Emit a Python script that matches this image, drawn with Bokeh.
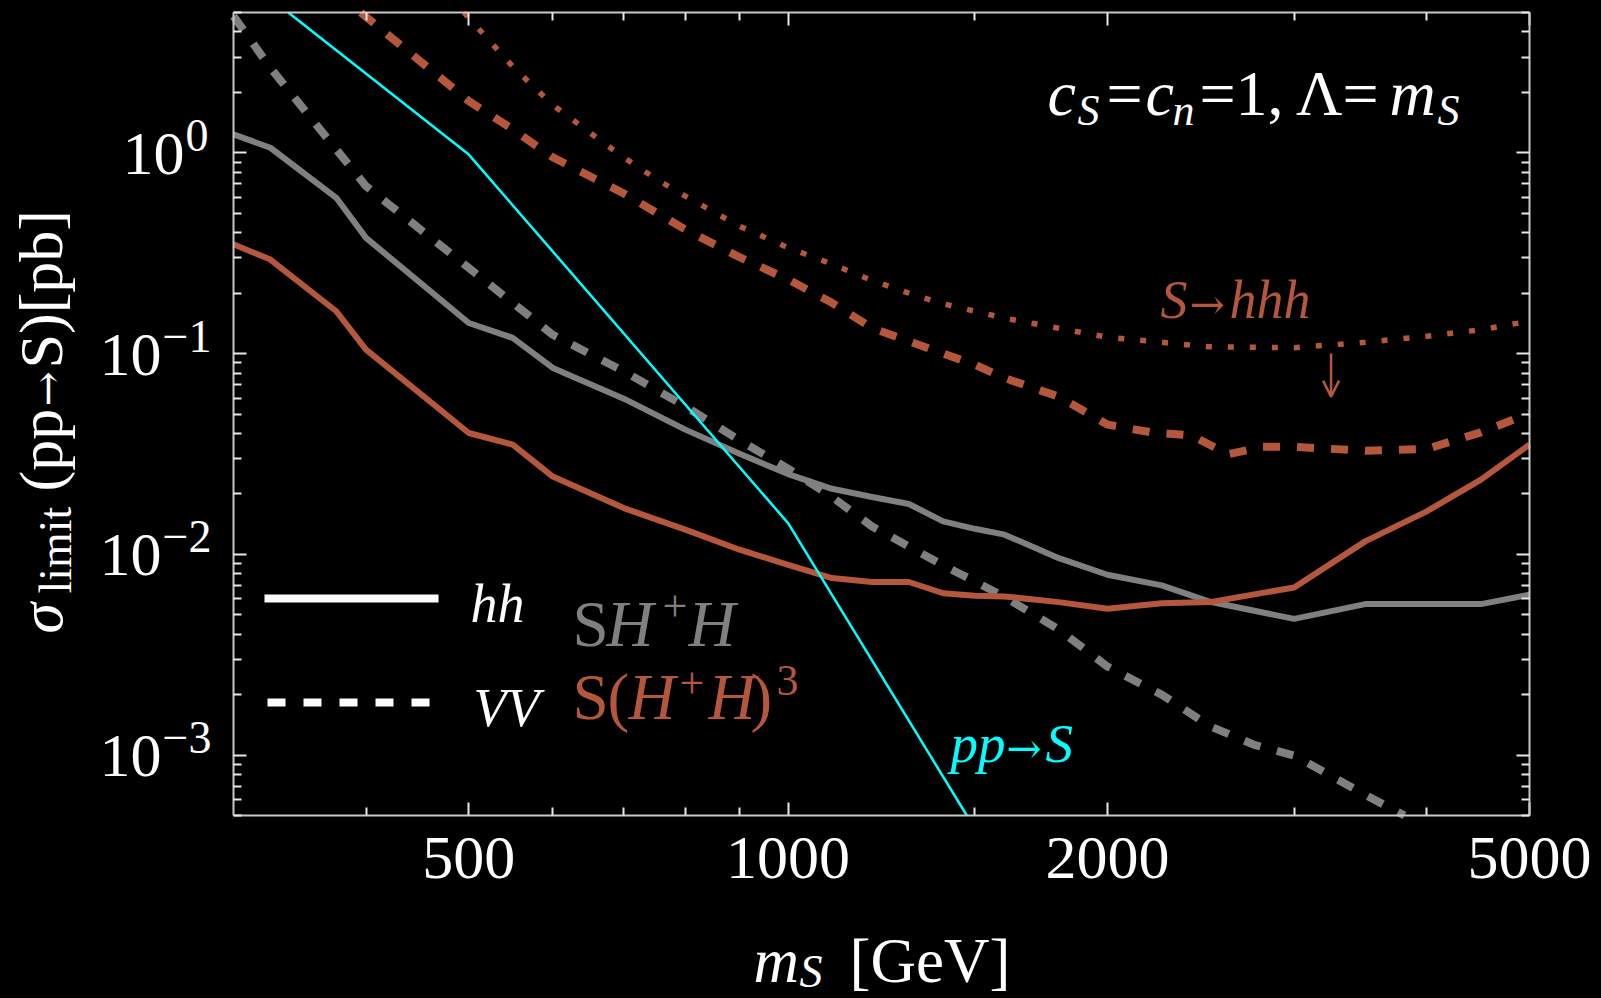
import numpy as np
from bokeh.plotting import figure
from bokeh.models import (FixedTicker, LogAxis, Label, Arrow, OpenHead,
                          CustomJSTickFormatter, Range1d)
from bokeh.embed import file_html
from bokeh.resources import INLINE

# ---------------- data ----------------
m_hh_SHH = [300, 325, 375, 400, 500, 550, 600, 700, 800, 900, 1000, 1100, 1200,
            1300, 1400, 1500, 1600, 1800, 2000, 2250, 2500, 3000, 3500, 4000, 4500, 5000]
sig_hh_SHH = [1.235, 1.06, 0.597, 0.377, 0.142, 0.1197, 0.0848, 0.0596, 0.0418, 0.0317,
              0.0251, 0.0212, 0.0193, 0.0178, 0.0146, 0.0134, 0.01253, 0.00957, 0.00791,
              0.0070, 0.0058, 0.00477, 0.00565, 0.00565, 0.00565, 0.00629]

m_hh_SH3 = m_hh_SHH
sig_hh_SH3 = [0.35, 0.294, 0.1625, 0.1047, 0.0402, 0.0352, 0.0244, 0.0170, 0.01327, 0.01054,
              0.00887, 0.00762, 0.00728, 0.00728, 0.0064, 0.00622, 0.00617, 0.00578, 0.00536,
              0.00571, 0.00578, 0.00684, 0.0116, 0.01636, 0.02355, 0.0352]

m_VV_SHH = [300, 325, 375, 400, 500, 550, 600, 700, 800, 900, 1000, 1100, 1200, 1300,
            1400, 1500, 1600, 1800, 2000, 2250, 2500, 2750, 3000, 3500, 4000]
sig_VV_SHH = [4.8, 2.65, 1.04, 0.682, 0.267, 0.179, 0.124, 0.0816, 0.0546, 0.037, 0.0267,
              0.0193, 0.01377, 0.01094, 0.00881, 0.00733, 0.00613, 0.00422, 0.00276, 0.0020,
              0.00139, 0.001125, 0.000994, 0.000634, 0.000437]

m_VV_SH3 = [300, 400, 500, 550, 600, 700, 800, 900, 1000, 1100, 1200, 1300, 1400, 1500,
            1600, 1800, 2000, 2200, 2400, 2600, 2800, 3000, 3500, 4000, 4500, 5000]
sig_VV_SH3 = [16.5, 4.76, 1.81, 1.31, 0.95, 0.627, 0.415, 0.302, 0.234, 0.179, 0.134, 0.115,
              0.100, 0.088, 0.0755, 0.061, 0.0443, 0.0405, 0.0391, 0.0315, 0.0343, 0.0343,
              0.0328, 0.0335, 0.0405, 0.0505]

m_hhh = [400, 500, 550, 600, 650, 700, 750, 800, 900, 1000, 1100, 1200, 1300, 1400, 1500,
         1600, 1800, 2000, 2500, 3000, 3500, 4000, 4500, 5000]
sig_hhh = [17, 4.7, 2.69, 1.73, 1.263, 0.948, 0.744, 0.608, 0.431, 0.337, 0.279, 0.231, 0.2,
           0.177, 0.1625, 0.150, 0.1337, 0.1206, 0.108, 0.107, 0.1138, 0.122, 0.1315, 0.145]

m_ppS = [300, 500, 1000, 1500]
sig_ppS = [8.2, 0.98, 0.0143, 0.00043]

x_lim = (300, 5000)
y_lim = (5e-4, 5)
x_major = [500, 1000, 2000, 5000]
x_minor = [400, 600, 700, 800, 900, 1500, 3000, 4000]
x_labels = ["500", "1000", "2000", "5000"]
y_major = [1e-3, 1e-2, 1e-1, 1.0]
y_exp = ["\u22123", "\u22122", "\u22121", "0"]
y_minor = [k * 10.0 ** e for e in range(-4, 1) for k in range(2, 10)
           if y_lim[0] <= k * 10.0 ** e <= y_lim[1]]

arrow_m = 3250
arrow_y = (0.1, 0.061)

# ---------------- layout / style ----------------
RED = "#B4573C"
GRAY = "#808080"
CYAN = "#00FFFF"
FONT = "Liberation Serif"
AFONT = "DejaVu Serif"   # for the arrows
K_MID = 0.337          # centre of text box above the baseline, in em

W, H = 1600, 996
BOX_L, BOX_R, BOX_T, BOX_B = 233, 1529, 12, 815   # plot box on the canvas (px)

px_dec_x = (BOX_R - BOX_L) / np.log10(x_lim[1] / x_lim[0])
px_dec_y = (BOX_B - BOX_T) / np.log10(y_lim[1] / y_lim[0])
x_start = x_lim[0] * 10 ** (-BOX_L / px_dec_x)
x_end = x_lim[1] * 10 ** ((W - BOX_R) / px_dec_x)
y_end = y_lim[1] * 10 ** (BOX_T / px_dec_y)
y_start = y_lim[0] * 10 ** (-(H - BOX_B) / px_dec_y)


def page_y(v):
    return BOX_T + np.log10(y_lim[1] / v) * px_dec_y


def clip_to_box(xs, ys, lo=y_lim[0], hi=y_lim[1]):
    """cut a log-log polyline where it leaves the y-range of the plot box"""
    lx, ly = np.log10(xs), np.log10(ys)
    blo, bhi = np.log10(lo), np.log10(hi)
    ox, oy = [], []
    for i in range(len(lx)):
        if i > 0:
            hits = []
            for b in (blo, bhi):
                if (ly[i - 1] - b) * (ly[i] - b) < 0:
                    t = (b - ly[i - 1]) / (ly[i] - ly[i - 1])
                    hits.append((t, b))
            for t, b in sorted(hits):
                ox.append(10 ** (lx[i - 1] + t * (lx[i] - lx[i - 1])))
                oy.append(10 ** b)
        if blo <= ly[i] <= bhi:
            ox.append(10 ** lx[i])
            oy.append(10 ** ly[i])
    return ox, oy


p = figure(width=W, height=H, x_axis_type="log", y_axis_type="log", title=None,
           x_range=Range1d(x_start, x_end), y_range=Range1d(y_start, y_end),
           output_backend="svg", toolbar_location=None,
           background_fill_color="black", border_fill_color="black")
p.min_border = 0
p.min_border_left = p.min_border_right = p.min_border_top = p.min_border_bottom = 0
p.outline_line_color = None
p.grid.visible = False

blank = CustomJSTickFormatter(code="return ''")


def style_axis(ax):
    ax.axis_line_color = "#c8c8c8"
    ax.axis_line_width = 2
    ax.major_tick_line_color = "#e8e8e8"
    ax.minor_tick_line_color = "#e8e8e8"
    ax.major_tick_line_width = 2
    ax.minor_tick_line_width = 2
    ax.major_tick_in = 13
    ax.major_tick_out = 0
    ax.minor_tick_in = 8
    ax.minor_tick_out = 0


xt = FixedTicker(ticks=x_major, minor_ticks=x_minor)
yt = FixedTicker(ticks=y_major, minor_ticks=y_minor)

# ---------------- curves ----------------
p.line(*clip_to_box(m_hhh, sig_hhh), line_color=RED, line_width=5.5, line_dash="6 16")
p.line(*clip_to_box(m_VV_SH3, sig_VV_SH3), line_color=RED, line_width=8, line_dash="17 17")
p.line(*clip_to_box(m_VV_SHH, sig_VV_SHH), line_color=GRAY, line_width=8, line_dash="17 17")
p.line(*clip_to_box(m_hh_SHH, sig_hh_SHH), line_color=GRAY, line_width=6, line_join="round")
p.line(*clip_to_box(m_hh_SH3, sig_hh_SH3), line_color=RED, line_width=6, line_join="round")
p.line(*clip_to_box(m_ppS, sig_ppS), line_color=CYAN, line_width=2.5)

# ---------------- axes (frame) ----------------
xa = p.xaxis[0]
xa.ticker = xt
xa.fixed_location = y_lim[0]
xa.bounds = x_lim
style_axis(xa)
xa.major_label_overrides = {v: s for v, s in zip(x_major, x_labels)}
xa.major_label_text_font = FONT
xa.major_label_text_font_size = "62px"
xa.major_label_text_color = "white"
xa.major_label_standoff = 22

ya = p.yaxis[0]
ya.ticker = yt
ya.fixed_location = x_lim[0]
ya.bounds = y_lim
style_axis(ya)
ya.formatter = blank
ya.major_label_standoff = 0
ya.major_label_text_font_size = "1px"

top = LogAxis(ticker=xt, formatter=blank, major_label_standoff=0,
              major_label_text_font_size="1px", fixed_location=y_lim[1], bounds=x_lim)
style_axis(top)
p.add_layout(top, "above")
right = LogAxis(ticker=yt, formatter=blank, major_label_standoff=0,
                major_label_text_font_size="1px", fixed_location=x_lim[1], bounds=y_lim)
style_axis(right)
p.add_layout(right, "right")

p.add_layout(Arrow(x_start=arrow_m, y_start=arrow_y[0], x_end=arrow_m, y_end=arrow_y[1],
                   line_color=RED, line_width=2.5,
                   end=OpenHead(size=16, line_color=RED, line_width=2.5)))


# ---------------- texts ----------------
def lab(text, X, Yb, size, color="white", style="normal", align="left", font=FONT):
    """text whose baseline starts at canvas pixel (X, Yb)"""
    p.add_layout(Label(x=X, y=H - (Yb - K_MID * size), x_units="screen", y_units="screen",
                       text=text, text_font=font, text_font_size=f"{size}px",
                       text_color=color, text_font_style=style, text_align=align,
                       text_baseline="middle"))


def labv(text, Xb, Ys, size, color="white", style="normal", font=FONT):
    """vertical text (reading upwards), baseline at canvas x = Xb, starting at y = Ys"""
    p.add_layout(Label(x=Xb - K_MID * size, y=H - Ys, x_units="screen", y_units="screen",
                       text=text, text_font=font, text_font_size=f"{size}px",
                       text_color=color, text_font_style=style, text_align="left",
                       text_baseline="middle", angle=np.pi / 2))


# y tick labels 10^k
for v, e in zip(y_major, y_exp):
    x_e = 184 if e == "0" else 161
    ty = page_y(v)
    lab("10", x_e, ty + 22, 62, align="right")
    lab(e, x_e + 1, ty - 2, 46)

# x axis title  m_S [GeV]
lab("m", 753, 982, 63, style="italic")
lab("S", 799, 987, 46, style="italic")
lab("[GeV]", 849, 982, 63)

# y axis title  sigma_limit(pp->S)[pb]
labv("\u03c3", 61, 633, 62, style="italic")
labv("limit", 71, 593, 46)
labv("(pp", 61, 491, 62)
labv("\u2192", 61, 406, 42, font=AFONT)
labv("S)[pb]", 61, 368, 62)

# parameter annotation  c_S = c_n = 1, Lambda = m_S
lab("c", 1047, 115, 64, style="italic")
lab("S", 1077, 125, 44, style="italic")
lab("=", 1106, 115, 64)
lab("c", 1145, 115, 64, style="italic")
lab("n", 1172, 125, 44, style="italic")
lab("=1, \u039b=", 1199, 115, 64)
lab("m", 1389, 115, 64, style="italic")
lab("S", 1437, 125, 44, style="italic")

# curve labels
lab("S", 1160, 318, 54, color=RED, style="italic")
lab("\u2192", 1189, 318, 42, color=RED, font=AFONT)
lab("hhh", 1229, 318, 54, color=RED, style="italic")
lab("pp", 950, 762, 55, color=CYAN, style="italic")
lab("\u2192", 1006, 762, 42, color=CYAN, font=AFONT)
lab("S", 1045, 762, 55, color=CYAN, style="italic")

# legend: line styles
p.add_layout(Arrow(x_start=264, y_start=H - 598, x_end=438, y_end=H - 598,
                   start_units="screen", end_units="screen", end=None,
                   line_color="white", line_width=8))
p.add_layout(Arrow(x_start=267, y_start=H - 702, x_end=430, y_end=H - 702,
                   start_units="screen", end_units="screen", end=None,
                   line_color="white", line_width=8, line_dash="18 18"))
lab("hh", 470, 622, 54, style="italic")
lab("VV", 473, 726, 54, style="italic")

# legend: models
lab("S", 572, 645, 65, color=GRAY)
lab("H", 606, 645, 65, color=GRAY, style="italic")
lab("+", 662, 621, 44, color=GRAY)
lab("H", 688, 645, 65, color=GRAY, style="italic")

lab("S", 572, 718, 65, color=RED)
lab("(", 607, 718, 65, color=RED)
lab("H", 628, 718, 65, color=RED, style="italic")
lab("+", 679, 698, 44, color=RED)
lab("H", 708, 718, 65, color=RED, style="italic")
lab(")", 750, 718, 65, color=RED)
lab("3", 776, 695, 44, color=RED)

html = file_html(p, INLINE, title="sigma limit")
html = html.replace("</head>", "<style>html,body{background:#000;}</style></head>", 1)
open("out.html", "w").write(html)
